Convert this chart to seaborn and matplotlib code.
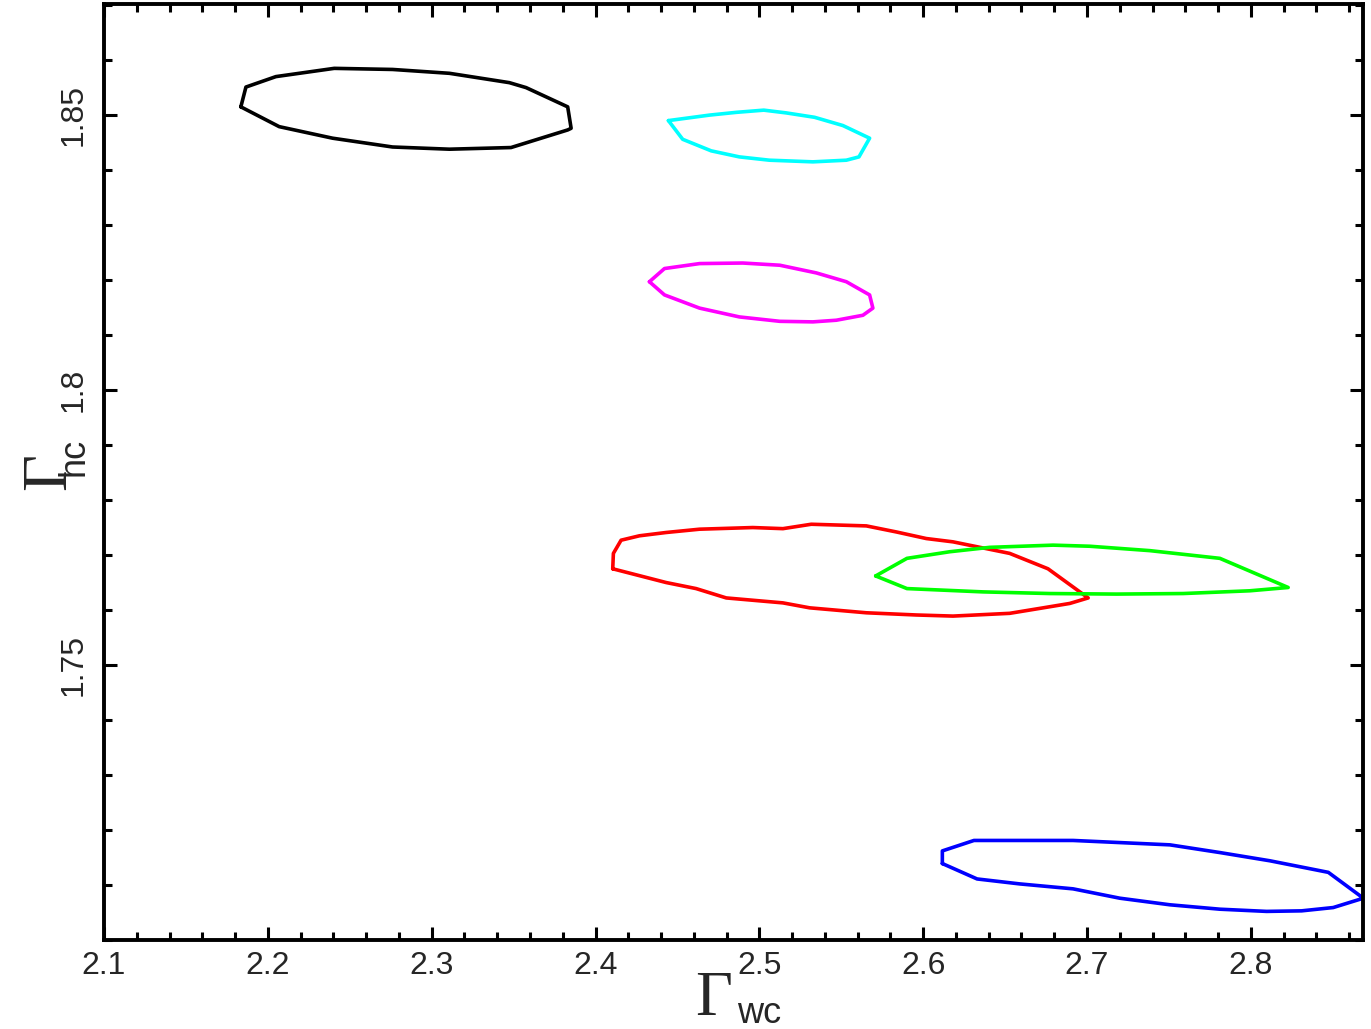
import numpy as np
import pandas as pd
import matplotlib
matplotlib.use("Agg")
import matplotlib.pyplot as plt
from matplotlib.ticker import MultipleLocator
import seaborn as sns

# ---- data: contour outlines (Gamma_wc, Gamma_hc) ----
black_x = [2.1835, 2.1866, 2.2049, 2.2405, 2.2761, 2.3108, 2.3474, 2.3576, 2.3830, 2.3851,
           2.3830, 2.3484, 2.3108, 2.2761, 2.2395, 2.2069]
black_y = [1.8515, 1.8551, 1.8570, 1.8585, 1.8583, 1.8576, 1.8559, 1.8550, 1.8515, 1.8476,
           1.8473, 1.8441, 1.8438, 1.8442, 1.8458, 1.8479]

cyan_x = [2.4445, 2.4696, 2.4859, 2.5027, 2.5164, 2.5337, 2.5510, 2.5673, 2.5608, 2.5531,
          2.5327, 2.5061, 2.4878, 2.4706, 2.4532]
cyan_y = [1.8490, 1.8500, 1.8505, 1.8509, 1.8504, 1.8496, 1.8481, 1.8458, 1.8424, 1.8418,
          1.8415, 1.8418, 1.8424, 1.8435, 1.8456]

magenta_x = [2.4329, 2.4421, 2.4635, 2.4899, 2.5125, 2.5348, 2.5531, 2.5673, 2.5693, 2.5632,
             2.5470, 2.5327, 2.5125, 2.4878, 2.4635, 2.4421]
magenta_y = [1.8197, 1.8221, 1.8230, 1.8231, 1.8227, 1.8213, 1.8197, 1.8173, 1.8149, 1.8136,
             1.8127, 1.8124, 1.8125, 1.8133, 1.8149, 1.8173]

red_x = [2.4105, 2.4109, 2.4156, 2.4268, 2.4431, 2.4635, 2.4960, 2.5144, 2.5317, 2.5653,
         2.5836, 2.6019, 2.6182, 2.6528, 2.6762, 2.7007, 2.6895, 2.6712, 2.6528, 2.6182,
         2.5958, 2.5653, 2.5307, 2.5144, 2.4798, 2.4614, 2.4431]
red_y = [1.7675, 1.7703, 1.7727, 1.7735, 1.7741, 1.7747, 1.7750, 1.7748, 1.7756, 1.7753,
         1.7742, 1.7730, 1.7724, 1.7703, 1.7675, 1.7622, 1.7612, 1.7603, 1.7594, 1.7589,
         1.7591, 1.7595, 1.7604, 1.7613, 1.7622, 1.7639, 1.7650]

green_x = [2.5710, 2.5901, 2.6162, 2.6406, 2.6793, 2.7017, 2.7384, 2.7811, 2.8228, 2.7994,
           2.7587, 2.7180, 2.6773, 2.6365, 2.5901]
green_y = [1.7662, 1.7694, 1.7706, 1.7714, 1.7718, 1.7716, 1.7708, 1.7694, 1.7641, 1.7635,
           1.7630, 1.7629, 1.7630, 1.7633, 1.7639]

blue_x = [2.6117, 2.6117, 2.6310, 2.6915, 2.7506, 2.7811, 2.8117, 2.8473, 2.8687, 2.8503,
          2.8310, 2.8096, 2.7811, 2.7506, 2.7200, 2.6915, 2.6589, 2.6329]
blue_y = [1.7139, 1.7162, 1.7181, 1.7181, 1.7173, 1.7159, 1.7144, 1.7123, 1.7076, 1.7059,
          1.7053, 1.7052, 1.7056, 1.7064, 1.7076, 1.7093, 1.7102, 1.7111]

x_ticks = [2.1, 2.2, 2.3, 2.4, 2.5, 2.6, 2.7, 2.8]
x_tick_labels = ["2.1", "2.2", "2.3", "2.4", "2.5", "2.6", "2.7", "2.8"]
y_ticks = [1.75, 1.80, 1.85]
y_tick_labels = ["1.75", "1.8", "1.85"]

series = {
    "black": (black_x, black_y, "#000000"),
    "cyan": (cyan_x, cyan_y, "#00FFFF"),
    "magenta": (magenta_x, magenta_y, "#FF00FF"),
    "red": (red_x, red_y, "#FF0000"),
    "green": (green_x, green_y, "#00FF00"),
    "blue": (blue_x, blue_y, "#0000FF"),
}

rows = []
for name, (xs, ys, _) in series.items():
    xs_c = list(xs) + [xs[0]]
    ys_c = list(ys) + [ys[0]]
    for i, (a, b) in enumerate(zip(xs_c, ys_c)):
        rows.append({"x": a, "y": b, "contour": name, "order": i})
df = pd.DataFrame(rows)
palette = {k: v[2] for k, v in series.items()}

sns.set_theme(style="ticks")
plt.rcParams["font.family"] = ["Liberation Sans", "DejaVu Sans"]

W, H = 1371, 1029
fig = plt.figure(figsize=(W / 100, H / 100), dpi=100)
ax = fig.add_axes([0.0759, 0.0865, 0.9942 - 0.0759, 0.9961 - 0.0865])

sns.lineplot(data=df, x="x", y="y", hue="contour", units="contour", estimator=None,
             sort=False, palette=palette, legend=False, linewidth=2.6, ax=ax)

ax.set_xlim(2.1, 2.8685)
ax.set_ylim(1.70, 1.8702)
ax.set_xticks(x_ticks)
ax.set_xticklabels(x_tick_labels)
ax.set_yticks(y_ticks)
ax.set_yticklabels(y_tick_labels, rotation=90, va="center")
ax.xaxis.set_minor_locator(MultipleLocator(0.02))
ax.yaxis.set_minor_locator(MultipleLocator(0.01))

ax.tick_params(which="both", direction="in", top=True, right=True, width=2.2, color="black")
ax.tick_params(which="major", length=9.5)
ax.tick_params(which="minor", length=5.5)
ax.tick_params(axis="x", which="major", labelsize=23, pad=8)
ax.tick_params(axis="y", which="major", labelsize=23, pad=11)
for s in ax.spines.values():
    s.set_linewidth(2.8)
    s.set_color("black")

ax.set_xlabel("")
ax.set_ylabel("")

serif = ["Liberation Serif", "DejaVu Serif"]
sans = ["Liberation Sans", "DejaVu Sans"]
# x label: Gamma_wc
fig.text(695 / W, 1 - 1015 / H, "\u0393", fontsize=46, family=serif,
         ha="left", va="baseline")
fig.text(737 / W, 1 - 1023 / H, "wc", fontsize=26, family=sans,
         ha="left", va="baseline")
# y label: Gamma_hc (rotated)
fig.text(65 / W, 1 - 490 / H, "\u0393", fontsize=46, family=serif,
         ha="left", va="baseline", rotation=90, rotation_mode="anchor")
fig.text(83 / W, 1 - 476 / H, "hc", fontsize=26, family=sans,
         ha="left", va="baseline", rotation=90, rotation_mode="anchor")

fig.savefig("out.png", dpi=100)
